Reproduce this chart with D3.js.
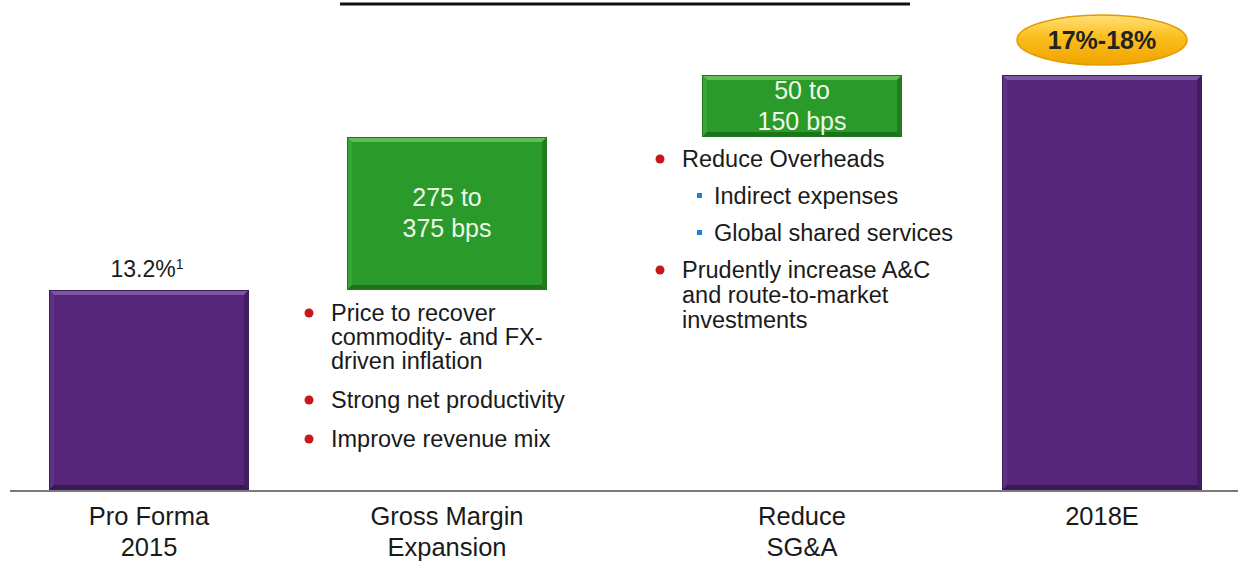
<!DOCTYPE html>
<html>
<head>
<meta charset="utf-8">
<script src="https://cdn.jsdelivr.net/npm/d3@7"></script>
<style>
  html, body { margin: 0; padding: 0; background: #fff; }
  text { font-family: Arial, "Liberation Sans", sans-serif; }
</style>
</head>
<body>
<svg id="chart" width="1238" height="565"></svg>
<script>
"use strict";

//// data
const categories = ["Pro Forma 2015", "Gross Margin Expansion", "Reduce SG&A", "2018E"];
const categoryLines = [["Pro Forma", "2015"], ["Gross Margin", "Expansion"], ["Reduce", "SG&A"], ["2018E"]];
const stepTypes = ["total", "delta", "delta", "total"];
// margin % (deltas use the midpoint of the bps range)
const stepValues = [13.2, 3.25, 1.0, 17.45];
const stepLabels = [["13.2%"], ["275 to", "375 bps"], ["50 to", "150 bps"], ["17%-18%"]];
const footnote = "1";
const gmBullets = [
    { level: 1, lines: ["Price to recover", "commodity- and FX-", "driven inflation"] },
    { level: 1, lines: ["Strong net productivity"] },
    { level: 1, lines: ["Improve revenue mix"] }
];
const sgaBullets = [
    { level: 1, lines: ["Reduce Overheads"] },
    { level: 2, lines: ["Indirect expenses"] },
    { level: 2, lines: ["Global shared services"] },
    { level: 1, lines: ["Prudently increase A&C", "and route-to-market", "investments"] }
];

(function () {
    const svg = d3.select("#chart");
    const barWidth = 200;

    //// build waterfall steps
    let running = 0;
    const steps = stepValues.map(function (v, i) {
        let y0, y1;
        if (stepTypes[i] === "total") { y0 = 0; y1 = v; running = v; }
        else { y0 = running; y1 = running + v; running = y1; }
        return { i: i, type: stepTypes[i], y0: y0, y1: y1, label: stepLabels[i] };
    });

    //// scales (schematic, not proportional - like the slide)
    const x = d3.scaleLinear().domain([0, 1, 2, 3]).range([149, 447, 802, 1102]);
    const y = d3.scaleLinear()
        .domain([0, steps[0].y1, steps[1].y1, steps[2].y1])
        .range([490, 290, 137, 75]);

    //// defs
    const defs = svg.append("defs");
    const gold = defs.append("linearGradient").attr("id", "gold")
        .attr("x1", 0).attr("y1", 0).attr("x2", 0).attr("y2", 1);
    gold.append("stop").attr("offset", "0%").attr("stop-color", "#ffe27a");
    gold.append("stop").attr("offset", "45%").attr("stop-color", "#fbbd1c");
    gold.append("stop").attr("offset", "100%").attr("stop-color", "#f0a400");

    //// title underline (title itself is cropped off)
    svg.append("line")
        .attr("x1", 340).attr("x2", 910).attr("y1", 4).attr("y2", 4)
        .attr("stroke", "#111").attr("stroke-width", 3);

    //// bevelled box helper
    function bevelBox(g, x0, y0, w, h, c) {
        const b = 5;
        g.append("rect").attr("x", x0).attr("y", y0).attr("width", w).attr("height", h).attr("fill", c.main);
        g.append("polygon").attr("fill", c.top)
            .attr("points", [[x0, y0], [x0 + w, y0], [x0 + w - b, y0 + b], [x0 + b, y0 + b]].join(" "));
        g.append("polygon").attr("fill", c.left)
            .attr("points", [[x0, y0], [x0 + b, y0 + b], [x0 + b, y0 + h - b], [x0, y0 + h]].join(" "));
        g.append("polygon").attr("fill", c.right)
            .attr("points", [[x0 + w, y0], [x0 + w, y0 + h], [x0 + w - b, y0 + h - b], [x0 + w - b, y0 + b]].join(" "));
        g.append("polygon").attr("fill", c.bottom)
            .attr("points", [[x0, y0 + h], [x0 + b, y0 + h - b], [x0 + w - b, y0 + h - b], [x0 + w, y0 + h]].join(" "));
        g.append("rect").attr("x", x0 + 0.5).attr("y", y0 + 0.5).attr("width", w - 1).attr("height", h - 1)
            .attr("fill", "none").attr("stroke", c.edge).attr("stroke-width", 1);
    }
    const purple = { main: "#55267a", top: "#7c579f", left: "#5e3185", right: "#421d61", bottom: "#3a1856", edge: "#3f1c5c" };
    const green = { main: "#2a9a2a", top: "#5fbf55", left: "#35a533", right: "#1f7f1f", bottom: "#1b741b", edge: "#1e7a1e" };

    //// bars
    const bars = svg.append("g").attr("class", "bars");
    steps.forEach(function (d) {
        const top = y(d.y1), bottom = y(d.y0);
        bevelBox(bars, x(d.i) - barWidth / 2, top, barWidth, bottom - top, d.type === "total" ? purple : green);
    });

    //// baseline
    svg.append("line")
        .attr("x1", 10).attr("x2", 1238).attr("y1", y(0) + 1).attr("y2", y(0) + 1)
        .attr("stroke", "#7a7a7a").attr("stroke-width", 2);

    //// value labels
    // start total
    const t0 = svg.append("text")
        .attr("x", x(0) - 2).attr("y", y(steps[0].y1) - 13)
        .attr("text-anchor", "middle").attr("font-size", 23).attr("fill", "#1a1a1a");
    t0.append("tspan").text(steps[0].label[0]);
    t0.append("tspan").attr("font-size", 14).attr("dy", -8).text(footnote);

    // deltas inside green boxes
    steps.filter(function (d) { return d.type === "delta"; }).forEach(function (d) {
        const mid = (y(d.y0) + y(d.y1)) / 2;
        const lh = 31;
        const n = d.label.length;
        svg.append("text")
            .attr("x", x(d.i)).attr("text-anchor", "middle")
            .attr("font-size", 25).attr("fill", "#eef8e8")
            .selectAll("tspan").data(d.label).enter().append("tspan")
                .attr("x", x(d.i))
                .attr("y", function (t, k) { return mid + 8 + (k - (n - 1) / 2) * lh; })
                .text(function (t) { return t; });
    });

    // end total in ellipse
    const last = steps[3];
    const ey = y(last.y1) - 35;
    svg.append("ellipse")
        .attr("cx", x(3)).attr("cy", ey).attr("rx", 85).attr("ry", 25)
        .attr("fill", "url(#gold)").attr("stroke", "#e39a00").attr("stroke-width", 1.5);
    svg.append("text")
        .attr("x", x(3)).attr("y", ey + 9)
        .attr("text-anchor", "middle").attr("font-size", 25).attr("font-weight", "bold")
        .attr("fill", "#222").text(last.label[0]);

    //// category labels
    categoryLines.forEach(function (lines, i) {
        svg.append("text")
            .attr("text-anchor", "middle").attr("font-size", 25.5).attr("fill", "#1a1a1a")
            .selectAll("tspan").data(lines).enter().append("tspan")
                .attr("x", x(i))
                .attr("y", function (t, k) { return 525 + k * 31; })
                .text(function (t) { return t; });
    });

    //// bullet lists
    function bulletList(items, x0, yStart, lineH, gap) {
        const g = svg.append("g").attr("class", "bullets");
        let yy = yStart;
        items.forEach(function (it) {
            const indent = it.level === 1 ? 0 : 40;
            if (it.level === 1) {
                g.append("circle").attr("cx", x0 + indent).attr("cy", yy - 8).attr("r", 4.5).attr("fill", "#c8161d");
            } else {
                g.append("rect").attr("x", x0 + indent - 3).attr("y", yy - 11).attr("width", 5).attr("height", 5).attr("fill", "#1f7fd0");
            }
            g.append("text")
                .attr("font-size", 23.5).attr("fill", "#1a1a1a")
                .selectAll("tspan").data(it.lines).enter().append("tspan")
                    .attr("x", x0 + indent + (it.level === 1 ? 22 : 14))
                    .attr("y", function (t, k) { return yy + k * lineH; })
                    .text(function (t) { return t; });
            yy += (it.lines.length - 1) * lineH + gap;
        });
    }
    bulletList(gmBullets, 309, y(steps[1].y0) + 31, 24, 39);
    bulletList(sgaBullets, 660, y(steps[2].y0) + 30, 25, 37);
})();
</script>
</body>
</html>
